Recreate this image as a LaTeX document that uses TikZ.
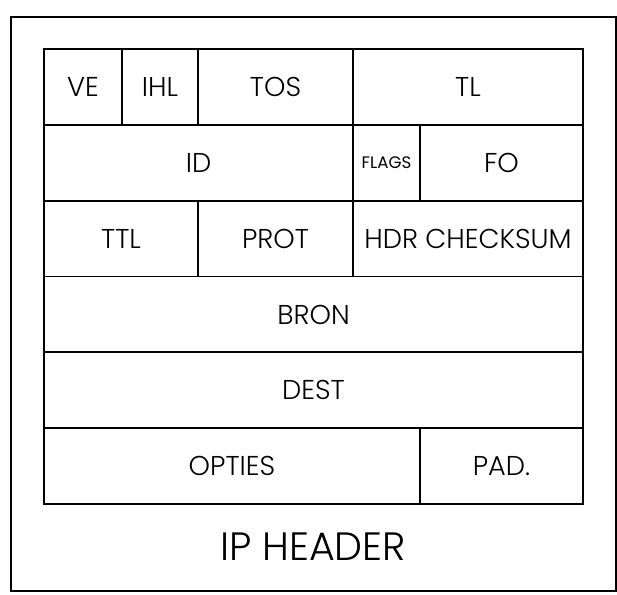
\documentclass[tikz,border=0pt]{standalone}
\usepackage{fontspec}
\setmainfont{Poppins}[UprightFont=* Light]
\newfontfamily\flagsfont{Poppins}
\usetikzlibrary{positioning}

\tikzset{
  cell/.style={draw, line width=1pt, rectangle, inner sep=0pt,
               minimum height=1.517cm, font=\fontsize{15.5}{18}\selectfont},
  frame/.style={draw, line width=1pt}
}

\begin{document}
\begin{tikzpicture}
    \useasboundingbox (0,0) rectangle (12.34,11.9);
    % outer frame
    \draw[frame] (0.22,0.08) rectangle (12.32,11.56);

    % row 1
    \node[cell, minimum width=1.56cm] (ve)  at (1.66,10.16) {VE};
    \node[cell, minimum width=1.52cm] (ihl) at (3.20,10.16) {IHL};
    \node[cell, minimum width=3.10cm] (tos) at (5.51,10.16) {TOS};
    \node[cell, minimum width=4.60cm] (tl)  at (9.36,10.16) {TL};

    % row 2
    \node[cell, minimum width=6.18cm] (id)    at (3.97,8.645) {ID};
    \node[cell, minimum width=1.34cm, font=\flagsfont\fontsize{9.5}{11}\selectfont]
         (flags) at (7.73,8.645) {FLAGS};
    \node[cell, minimum width=3.26cm] (fo)    at (10.03,8.645) {FO};

    % row 3
    \node[cell, minimum width=3.08cm] (ttl)  at (2.42,7.13) {TTL};
    \node[cell, minimum width=3.10cm] (prot) at (5.51,7.13) {PROT};
    \node[cell, minimum width=4.60cm] (hdr)  at (9.36,7.13) {HDR CHECKSUM};

    % rows 4 and 5
    \node[cell, minimum width=10.78cm] (bron) at (6.27,5.61) {BRON};
    \node[cell, minimum width=10.78cm] (dest) at (6.27,4.095) {DEST};

    % row 6
    \node[cell, minimum width=7.52cm] (opties) at (4.64,2.58) {OPTIES};
    \node[cell, minimum width=3.26cm] (pad)    at (10.03,2.58) {PAD.};

    % caption
    \node[font=\fontsize{22.5}{26}\selectfont] (title) at (6.26,0.96) {IP HEADER};
\end{tikzpicture}
\end{document}
